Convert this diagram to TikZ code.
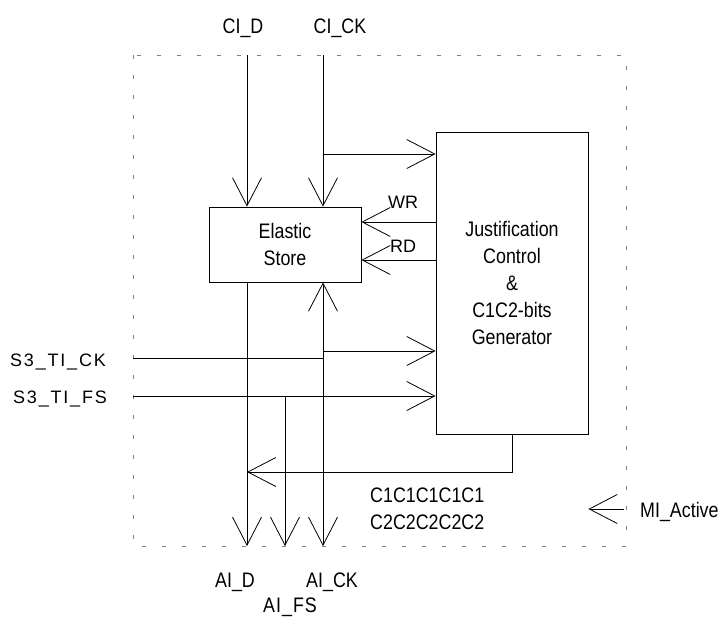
\documentclass[tikz,border=0pt]{standalone}
\usepackage{fontspec}
\setmainfont{Liberation Sans}
\newfontfamily\narrowsans[FakeStretch=0.85]{Liberation Sans}
\usetikzlibrary{arrows.meta}
\tikzset{
  sigline/.style={
    draw,
    line width=0.8pt,
    -{Straight Barb[length=28pt,width=29pt]}
  },
  wire/.style={
    draw,
    line width=0.8pt
  },
  blockbox/.style={
    draw,
    line width=0.8pt,
    minimum width=152pt,
    align=center,
    inner sep=0pt,
    font=\narrowsans\fontsize{21}{27}\selectfont
  },
  boundary/.style={
    draw=gray,
    line width=0.8pt,
    dash pattern=on 4pt off 16pt
  },
  pinlabel/.style={
    font=\narrowsans\fontsize{21}{27}\selectfont,
    inner sep=0pt,
    anchor=base
  },
  sidelabel/.style={
    font=\fontsize{18}{22}\selectfont,
    inner sep=0pt,
    anchor=base west
  }
}

\begin{document}
\begin{tikzpicture}[x=1pt,y=-1pt]
    \useasboundingbox (0,0) rectangle (720,616);

    % module boundary
    \draw[boundary] (133,55) rectangle (626,546);

    % blocks
    \node[blockbox, minimum height=75pt] (es) at (285,244.5) {Elastic\\Store};
    \node[blockbox, minimum height=302pt] (jc) at (512,283) {Justification\\Control\\\&\\C1C2-bits\\Generator};

    % pin points
    \coordinate (cid) at (247,55);
    \coordinate (cick) at (323,55);
    \coordinate (ckbr) at (323,154);
    \coordinate (wrp) at (400,222);
    \coordinate (rdp) at (400,260);
    \coordinate (tick) at (133,358);
    \coordinate (ckjn) at (323,358);
    \coordinate (ckbr2) at (323,351);
    \coordinate (tifs) at (133,396);
    \coordinate (fsjn) at (285,396);
    \coordinate (aid) at (247,546);
    \coordinate (aifs) at (285,546);
    \coordinate (aick) at (323,546);
    \coordinate (c12) at (247,472);
    \coordinate (mia) at (624,509);

    % connectors
    \draw[sigline] (cid) -- (cid |- es.north);
    \draw[sigline] (cick) -- (cick |- es.north);
    \draw[sigline] (ckbr) -- (ckbr -| jc.west);
    \draw[sigline] (wrp -| jc.west) -- (wrp -| es.east);
    \draw[sigline] (rdp -| jc.west) -- (rdp -| es.east);
    \draw[wire] (tick) -- (ckjn);
    \draw[sigline] (ckjn) -- (ckjn |- es.south);
    \draw[sigline] (ckjn) -- (aick);
    \draw[sigline] (ckbr2) -- (ckbr2 -| jc.west);
    \draw[sigline] (tifs) -- (tifs -| jc.west);
    \draw[sigline] (fsjn) -- (aifs);
    \draw[sigline] (cid |- es.south) -- (aid);
    \draw[sigline] (jc.south) |- (c12);
    \draw[sigline] (mia) -- (mia -| jc.east);

    % labels
    \node[pinlabel] (lcid) at (243,33) {CI\_D};
    \node[pinlabel] (lcick) at (340,33) {CI\_CK};
    \node[sidelabel] (lwr) at (388,208) {WR};
    \node[sidelabel] (lrd) at (390,252) {RD};
    \node[sidelabel, font=\addfontfeature{LetterSpace=10}\fontsize{18}{22}\selectfont] (ltick) at (10,366) {S3\_TI\_CK};
    \node[sidelabel, font=\addfontfeature{LetterSpace=10}\fontsize{18}{22}\selectfont] (ltifs) at (13,403) {S3\_TI\_FS};
    \node[pinlabel, anchor=west, align=left] (lc12) at (370,508.5) {C1C1C1C1C1\\C2C2C2C2C2};
    \node[pinlabel, anchor=base west] (lmia) at (640,517) {MI\_Active};
    \node[pinlabel] (laid) at (235,587) {AI\_D};
    \node[pinlabel] (laick) at (332,587) {AI\_CK};
    \node[pinlabel, font=\narrowsans\addfontfeature{LetterSpace=5}\fontsize{21}{27}\selectfont] (laifs) at (290,612) {AI\_FS};
\end{tikzpicture}
\end{document}
